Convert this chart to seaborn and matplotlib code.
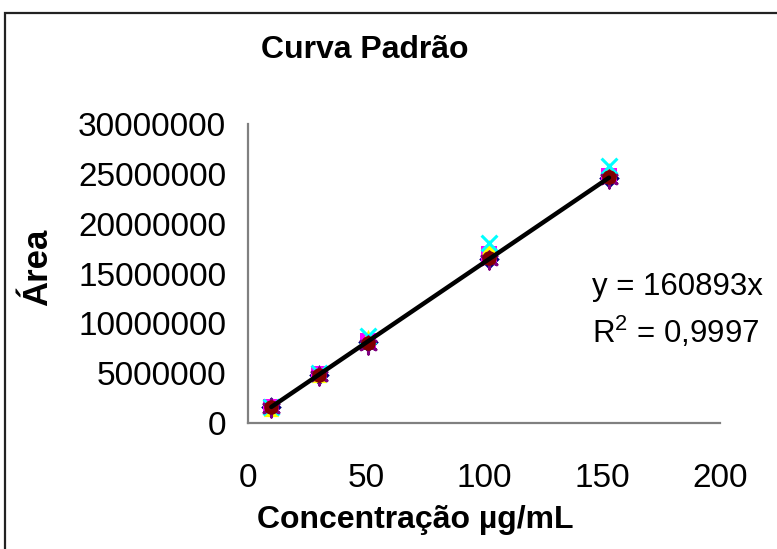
import matplotlib
matplotlib.use("Agg")
import matplotlib.pyplot as plt
import seaborn as sns
import pandas as pd
from matplotlib.patches import Rectangle

# Standard curve: peak area vs concentration, six injection series
concentracao = [10, 30, 51, 102, 153]
serie_1 = [1600000, 4800000, 8100000, 16500000, 24600000]
serie_2 = [1600000, 4900000, 8200000, 17000000, 24800000]
serie_3 = [1400000, 4800000, 8600000, 17700000, 25400000]
serie_4 = [1600000, 5000000, 8700000, 18100000, 25800000]
serie_5 = [1500000, 4700000, 7800000, 16400000, 24500000]
serie_6 = [1600000, 4800000, 8000000, 16600000, 24700000]

inclinacao = 160893
r2_texto = "0,9997"

series = {
    "Série 1": serie_1, "Série 2": serie_2, "Série 3": serie_3,
    "Série 4": serie_4, "Série 5": serie_5, "Série 6": serie_6,
}
cores = {"Série 1": "#000080", "Série 2": "#FF00FF", "Série 3": "#FFFF00",
         "Série 4": "#00FFFF", "Série 5": "#800080", "Série 6": "#800000"}
marcadores = {"Série 1": "D", "Série 2": "s", "Série 3": "^",
              "Série 4": "x", "Série 5": (6, 2, 0), "Série 6": "o"}
tamanhos = {"Série 1": 110, "Série 2": 120, "Série 3": 120,
            "Série 4": 130, "Série 5": 150, "Série 6": 110}

df = pd.concat(
    [pd.DataFrame({"conc": concentracao, "area": v, "serie": k}) for k, v in series.items()],
    ignore_index=True,
)

sns.set_theme(style="white")
plt.rcParams["font.family"] = ["Liberation Sans", "DejaVu Sans"]
plt.rcParams["mathtext.fontset"] = "custom"
plt.rcParams["mathtext.rm"] = "Liberation Sans"
plt.rcParams["text.color"] = "black"
plt.rcParams["axes.labelcolor"] = "black"

fig = plt.figure(figsize=(7.77, 5.49), dpi=100)
fig.patch.set_facecolor("white")
ax = fig.add_axes([0.3188, 0.2295, 0.6078, 0.5446])

for nome in series:
    sub = df[df["serie"] == nome]
    m = marcadores[nome]
    if m in ("x", (6, 2, 0)):
        sns.scatterplot(data=sub, x="conc", y="area", ax=ax, marker=m,
                        color=cores[nome], s=tamanhos[nome], linewidth=2.2,
                        legend=False, zorder=3)
    else:
        sns.scatterplot(data=sub, x="conc", y="area", ax=ax, marker=m,
                        color=cores[nome], s=tamanhos[nome], linewidth=0,
                        legend=False, zorder=3)

# Linear trendline through the origin, spanning the concentration range
xs = [min(concentracao), max(concentracao)]
linha = pd.DataFrame({"conc": xs, "area": [inclinacao * x for x in xs]})
sns.lineplot(data=linha, x="conc", y="area", ax=ax, color="black",
             linewidth=3.2, zorder=4)

ax.set_xlim(0, 200)
ax.set_ylim(0, 30000000)
ax.set_xticks([0, 50, 100, 150, 200])
ax.set_yticks(range(0, 30000001, 5000000))
ax.set_xticklabels(["0", "50", "100", "150", "200"])
ax.set_yticklabels([str(v) for v in range(0, 30000001, 5000000)])

for s in ["top", "right"]:
    ax.spines[s].set_visible(False)
for s in ["left", "bottom"]:
    ax.spines[s].set_color("#808080")
    ax.spines[s].set_linewidth(1.6)
ax.tick_params(axis="both", direction="out", length=7.5, width=1.0,
               color="#333333", labelsize=24, labelcolor="black")
ax.tick_params(axis="y", pad=8)
ax.tick_params(axis="x", pad=21)
ax.set_facecolor("white")

ax.set_xlabel("Concentração µg/mL", fontsize=23, fontweight="bold")
ax.xaxis.set_label_coords(0.354, -0.3245)
ax.xaxis.label.set_va("center")
ax.set_ylabel("Área", fontsize=25, fontweight="bold")
ax.yaxis.set_label_coords(-0.444, 0.522)
ax.yaxis.label.set_va("center")

fig.text(365 / 777, 1 - 50 / 549, "Curva Padrão", ha="center", va="center",
         fontsize=23, fontweight="bold")

fig.text(677 / 777, 1 - 287 / 549, f"y = {inclinacao}x", ha="center",
         va="center", fontsize=22.5)
fig.text(676 / 777, 1 - 332 / 549, "R$^2$ = " + r2_texto, ha="center",
         va="center", fontsize=22.5)

# Chart-area border
fig.add_artist(Rectangle((5 / 777, -0.1), 1.2, 1 - 13 / 549 + 0.1,
                         transform=fig.transFigure, fill=False,
                         edgecolor="#222222", linewidth=1.6))

fig.savefig("out.png", dpi=100)
